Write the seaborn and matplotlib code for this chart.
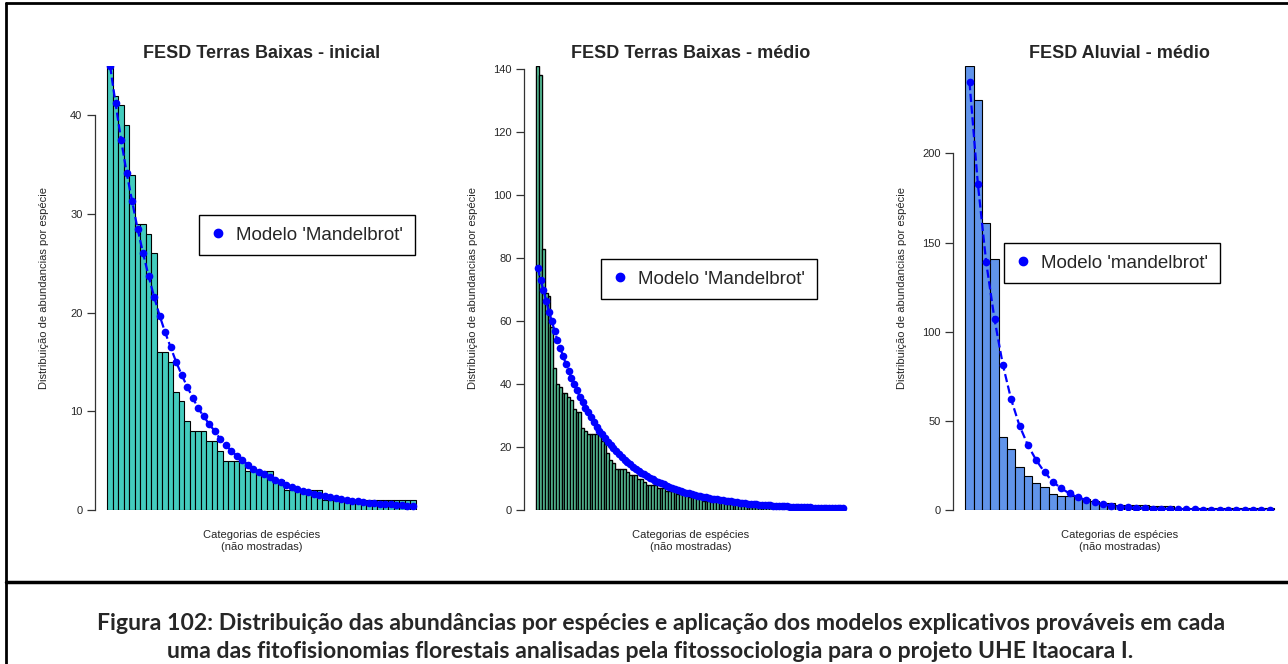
import numpy as np
import matplotlib
matplotlib.use("Agg")
import matplotlib.pyplot as plt
import seaborn as sns
from matplotlib.lines import Line2D

# abundances per species (ranked) and fitted Mandelbrot model
p1_abund = [45, 42, 41, 39, 34, 29, 29, 28, 26, 16,
            16, 15, 12, 11, 9, 8, 8, 8, 7, 7,
            6, 5, 5, 5, 5, 4, 4, 4, 4, 4,
            3, 3, 2, 2, 2, 2, 2, 2, 2, 1,
            1, 1, 1, 1, 1, 1, 1, 1, 1, 1,
            1, 1, 1, 1, 1, 1]
p1_model = [45.0, 41.2, 37.5, 34.2, 31.3, 28.5, 26.0, 23.7, 21.6, 19.7,
            18.0, 16.5, 15.0, 13.7, 12.5, 11.4, 10.3, 9.5, 8.7, 8.0,
            7.2, 6.6, 6.0, 5.5, 5.1, 4.6, 4.2, 3.9, 3.6, 3.3,
            3.0, 2.8, 2.5, 2.3, 2.1, 1.95, 1.8, 1.65, 1.5, 1.4,
            1.3, 1.2, 1.1, 1.0, 0.95, 0.88, 0.82, 0.76, 0.7, 0.65,
            0.6, 0.56, 0.52, 0.48, 0.44, 0.4]

p2_abund = [141, 138, 83, 69, 68, 58, 45, 40, 39, 37,
            37, 36, 35, 32, 31, 31, 26, 25, 24, 24,
            24, 24, 24, 22, 21, 18, 16, 15, 13, 13,
            13, 13, 12, 11, 11, 11, 10, 10, 9, 8,
            8, 8, 8, 7, 7, 7, 6, 6, 6, 6,
            5, 5, 5, 5, 4, 4, 4, 4, 4, 3,
            3, 3, 3, 3, 3, 3, 3, 3, 2, 2,
            2, 2, 2, 2, 2, 2, 1, 1, 1, 1,
            1, 1, 1, 1, 1, 1, 1, 1, 1, 1,
            1, 1, 1, 1, 1, 1, 1, 1, 1, 1,
            1, 1, 1, 1, 1, 1, 1, 1, 1, 1]
p2_model = [77, 73, 70, 66.5, 63, 60, 57, 54, 51.5, 49,
            46.5, 44, 42, 40, 38, 36, 34.2, 32.5, 31, 29.5,
            28, 26.5, 25.2, 24, 22.8, 21.7, 20.6, 19.6, 18.6, 17.7,
            16.8, 16, 15.2, 14.5, 13.8, 13.1, 12.5, 11.9, 11.3, 10.8,
            10.3, 9.8, 9.3, 8.9, 8.5, 8.1, 7.7, 7.3, 7.0, 6.7,
            6.4, 6.1, 5.8, 5.5, 5.3, 5.0, 4.8, 4.6, 4.4, 4.2,
            4.0, 3.8, 3.65, 3.5, 3.35, 3.2, 3.05, 2.9, 2.8, 2.7,
            2.55, 2.45, 2.35, 2.25, 2.15, 2.05, 1.95, 1.9, 1.8, 1.72,
            1.65, 1.58, 1.52, 1.45, 1.4, 1.34, 1.28, 1.23, 1.18, 1.13,
            1.08, 1.04, 1.0, 0.96, 0.92, 0.88, 0.85, 0.82, 0.79, 0.76,
            0.73, 0.7, 0.67, 0.65, 0.62, 0.6, 0.58, 0.56, 0.54, 0.52]

p3_abund = [249, 230, 161, 141, 41, 34, 24, 19, 15, 13,
            9, 8, 8, 7, 6, 5, 4, 4, 3, 3,
            3, 3, 2, 2, 2, 1, 1, 1, 1, 1,
            1, 1, 1, 1, 1, 1, 1]
p3_model = [240, 183, 139, 107, 81.5, 62, 47.3, 36.4, 28, 21.2,
            15.9, 12.1, 9.3, 7.1, 5.6, 4.3, 3.2, 2.5, 1.9, 1.5,
            1.2, 0.95, 0.75, 0.6, 0.5, 0.42, 0.35, 0.3, 0.25, 0.21,
            0.18, 0.15, 0.13, 0.11, 0.09, 0.08, 0.07]

titles = ["FESD Terras Baixas - inicial", "FESD Terras Baixas - médio", "FESD Aluvial - médio"]
legend_labels = ["Modelo 'Mandelbrot'", "Modelo 'Mandelbrot'", "Modelo 'mandelbrot'"]
y_ticks = [[0, 10, 20, 30, 40], [0, 20, 40, 60, 80, 100, 120, 140], [0, 50, 100, 150, 200]]
ylabel = "Distribuição de abundancias por espécie"
xlabel = "Categorias de espécies\n(não mostradas)"
caption1 = "Figura 102: Distribuição das abundâncias por espécies e aplicação dos modelos explicativos prováveis em cada"
caption2 = "uma das fitofisionomias florestais analisadas pela fitossociologia para o projeto UHE Itaocara I."

sns.set_theme(style="white")
plt.rcParams['font.family'] = ['Liberation Sans', 'DejaVu Sans']

W, H = 1288, 664
fig = plt.figure(figsize=(W / 100, H / 100), dpi=100)

bar_colors = ["#43CCBE", "#5FD2A6", "#6194EA"]
bar_edge_lw = [0.8, 1.0, 0.8]
# axes placement in pixels: left, width, top, bottom
ax_left = [95, 524, 953]
ax_width = 333
ax_top, ax_bottom = 66, 510
legend_centers = [(307, 235), (709, 279), (1112, 263)]

panels = [(p1_abund, p1_model), (p2_abund, p2_model), (p3_abund, p3_model)]

for i, (abund, model) in enumerate(panels):
    ax = fig.add_axes([ax_left[i] / W, (H - ax_bottom) / H, ax_width / W, (ax_bottom - ax_top) / H])
    n = len(abund)
    idx = np.arange(n)
    sns.barplot(x=idx, y=abund, color=bar_colors[i], saturation=1, width=1,
                edgecolor="black", linewidth=bar_edge_lw[i], ax=ax)
    sns.lineplot(x=idx, y=model, ax=ax, color="blue", linestyle="--", linewidth=1.6,
                 marker="o", markersize=5.5, markeredgewidth=0, legend=False)
    pad = 0.04 * n
    ax.set_xlim(-0.5 - pad, n - 0.5 + pad)
    ax.set_ylim(0, max(abund))
    ax.set_xticks([])
    ax.set_xlabel("")
    ax.set_yticks(y_ticks[i])
    for side in ["top", "right", "bottom"]:
        ax.spines[side].set_visible(False)
    ax.spines["left"].set_bounds(y_ticks[i][0], y_ticks[i][-1])
    ax.spines["left"].set_color("#333333")
    ax.spines["left"].set_linewidth(0.9)
    ax.tick_params(axis="y", direction="out", length=6, width=0.9, color="#333333",
                   labelsize=8, pad=3, left=True)
    ax.set_ylabel(ylabel, fontsize=8)
    ax.yaxis.set_label_coords(-46 / ax_width, 0.5)
    ax.text(0.5, 1 + 13 / 444, titles[i], transform=ax.transAxes, ha="center", va="center",
            fontsize=13, fontweight="bold")
    ax.text(0.5, -31 / 444, xlabel, transform=ax.transAxes, ha="center", va="center",
            fontsize=8, linespacing=1.15)
    handle = Line2D([], [], marker="o", color="blue", linestyle="none", markersize=6)
    cx, cy = legend_centers[i]
    leg = ax.legend([handle], [legend_labels[i]], loc="center",
                    bbox_to_anchor=(cx / W, 1 - cy / H), bbox_transform=fig.transFigure,
                    fontsize=13.5, frameon=True, fancybox=False, framealpha=1,
                    edgecolor="black", borderpad=0.62, handlelength=0.8, handletextpad=0.55,
                    borderaxespad=0)
    leg.get_frame().set_linewidth(1.0)

# page frame and caption separator
sep_y = 582
fig.add_artist(Line2D([6 / W, 6 / W], [0, 1 - 3 / H], color="black", linewidth=2, transform=fig.transFigure))
fig.add_artist(Line2D([6 / W, 1], [1 - 3 / H, 1 - 3 / H], color="black", linewidth=2, transform=fig.transFigure))
fig.add_artist(Line2D([6 / W, 1], [1 - sep_y / H, 1 - sep_y / H], color="black", linewidth=2.5, transform=fig.transFigure))

fig.text(661 / W, 1 - 623 / H, caption1, ha="center", va="center", fontsize=16.6,
         fontweight="bold", family=["Lato", "DejaVu Sans"])
fig.text(650 / W, 1 - 651 / H, caption2, ha="center", va="center", fontsize=16.6,
         fontweight="bold", family=["Lato", "DejaVu Sans"])

fig.savefig("out.png", dpi=100)
